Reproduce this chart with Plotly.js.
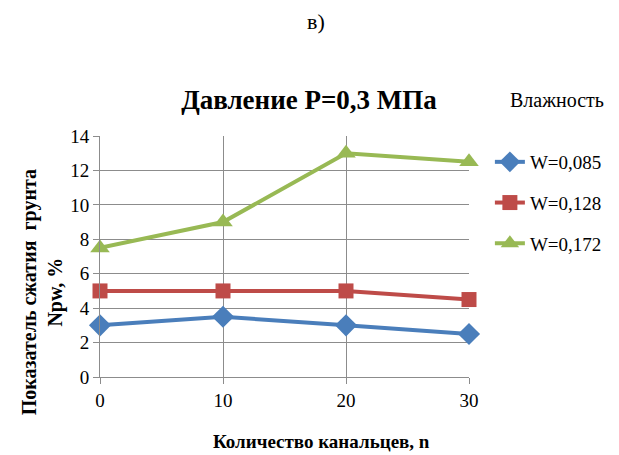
<!DOCTYPE html>
<html>
<head>
<meta charset="utf-8">
<script src="https://cdn.plot.ly/plotly-3.0.1.min.js"></script>
<style>html,body{margin:0;padding:0;background:#fff;}#chart{width:619px;height:455px;}</style>
</head>
<body>
<div id="chart"></div>
<script>
var channels = [0, 10, 20, 30];
var seriesNames = ["W=0,085", "W=0,128", "W=0,172"];
var w085 = [3, 3.5, 3, 2.5];
var w128 = [5, 5, 5, 4.5];
var w172 = [7.5, 9, 13, 12.5];
var yTicks = [0, 2, 4, 6, 8, 10, 12, 14];
var xTicks = [0, 10, 20, 30];

var FONT_FAMILY = "Liberation Serif";
var GRID_COLOR = "#8c8c8c";

function makeTrace(name, y, color, symbol, size, grp) {
  return {
    x: channels, y: y, name: name, type: "scatter", mode: "lines+markers",
    line: {color: color, width: 4},
    marker: {color: color, symbol: symbol, size: size},
    cliponaxis: false, legendgroup: grp
  };
}

var data = [
  makeTrace(seriesNames[0], w085, "#4A7EBB", "diamond", 17, "a"),
  makeTrace(seriesNames[1], w128, "#BE4B48", "square", 15, "b"),
  makeTrace(seriesNames[2], w172, "#98B954", "triangle-up", 17, "c")
];

var layout = {
  width: 619, height: 455,
  margin: {l: 100, r: 148, t: 136, b: 78},
  paper_bgcolor: "#ffffff", plot_bgcolor: "#ffffff",
  font: {family: FONT_FAMILY, color: "#000000", size: 19},
  title: {text: "<b>Давление Р=0,3 МПа</b>", font: {size: 27},
          x: 309/619, xanchor: "center", xref: "container", y: 1 - 100/455, yanchor: "middle", yref: "container"},
  xaxis: {
    range: [0, 30], tickvals: xTicks, ticktext: xTicks.map(String),
    showgrid: true, gridcolor: GRID_COLOR, gridwidth: 1,
    showline: true, linecolor: GRID_COLOR, linewidth: 1,
    ticks: "outside", ticklen: 6, tickcolor: GRID_COLOR,
    zeroline: false
  },
  yaxis: {
    range: [0, 14], tickvals: yTicks, ticktext: yTicks.map(String),
    showgrid: true, gridcolor: GRID_COLOR, gridwidth: 1,
    showline: true, linecolor: GRID_COLOR, linewidth: 1,
    ticks: "outside", ticklen: 6, tickcolor: GRID_COLOR,
    zeroline: false
  },
  showlegend: true,
  legend: {
    x: (492 - 100) / 371, xanchor: "left", y: (377 - 143) / 241, yanchor: "top",
    traceorder: "grouped", tracegroupgap: 13, bgcolor: "rgba(0,0,0,0)"
  },
  annotations: [
    {text: "в)", xref: "paper", yref: "paper", x: (317 - 100) / 371, y: (377 - 22) / 241,
     xanchor: "center", yanchor: "middle", showarrow: false, font: {size: 22}},
    {text: "Влажность", xref: "paper", yref: "paper", x: (559 - 100) / 371, y: (377 - 100) / 241,
     xanchor: "center", yanchor: "middle", showarrow: false, font: {size: 20}},
    {text: "<b>Количество канальцев, n</b>", xref: "paper", yref: "paper", x: (323 - 100) / 371, y: (377 - 441) / 241,
     xanchor: "center", yanchor: "middle", showarrow: false, font: {size: 19}},
    {text: "<b>Показатель сжатия  грунта<br>Npw, %</b>", xref: "paper", yref: "paper", x: (42 - 100) / 371, y: (377 - 292) / 241,
     xanchor: "center", yanchor: "middle", textangle: -90, showarrow: false, font: {size: 20}}
  ]
};

Plotly.newPlot("chart", data, layout, {displayModeBar: false, staticPlot: true});
</script>
</body>
</html>
